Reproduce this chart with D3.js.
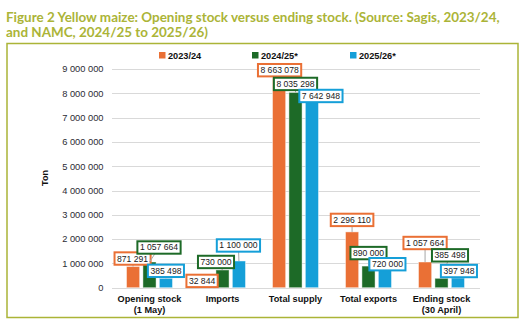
<!DOCTYPE html>
<html><head><meta charset="utf-8">
<script src="https://cdn.jsdelivr.net/npm/d3@7"></script>
<style>html,body{margin:0;padding:0;background:#fff;}svg{display:block;}</style>
</head><body>
<script>
const categories = [["Opening stock","(1 May)"],["Imports"],["Total supply"],["Total exports"],["Ending stock","(30 April)"]];
const seriesNames = ["2023/24","2024/25*","2025/26*"];
const s2023 = [871291, 32844, 8663078, 2296110, 1057664];
const s2024 = [1057664, 730000, 8035298, 890000, 385498];
const s2025 = [385498, 1100000, 7642948, 720000, 397948];
const yTicks = [0,1000000,2000000,3000000,4000000,5000000,6000000,7000000,8000000,9000000];

const colors = ["#ea7035","#1d6a27","#159fd8"];
// label offsets (dx, dy) from bar top centre, per series per category
const offs = [
  [[-0.5,-8],[-4,-6],[0.5,-7],[0,-12],[0,-19]],
  [[9.5,-14.5],[-6.5,-8],[0,-8.5],[0,-13],[8.5,-23]],
  [[0,-7.5],[-0.5,-15.5],[9,-6],[2.5,-6],[1,-7]]
];
const series = [s2023, s2024, s2025];
const W=523,H=325;
const svg=d3.select("body").append("svg").attr("width",W).attr("height",H);
const olive="#abb437";
const fmt = v => d3.format(",")(v).replace(/,/g," ");

// title, font size fitted to the reference width
function titleLine(txt, yy, targetW){
  const t = svg.append("text").attr("x",6).attr("y",yy).attr("fill",olive)
    .style("font-family","Lato").style("font-weight","bold").style("font-size","14px").text(txt);
  return t;
}
const t1 = titleLine("Figure 2 Yellow maize: Opening stock versus ending stock. (Source: Sagis, 2023/24,",21.5);
const w1 = t1.node().getComputedTextLength();
const fs = Math.min(15, 14*494/w1);
t1.style("font-size",fs+"px");
const t2 = titleLine("and NAMC, 2024/25 to 2025/26)",36.5);
t2.style("font-size",fs+"px");

// frame
svg.append("rect").attr("x",7).attr("y",43.5).attr("width",511).attr("height",274)
  .attr("fill","none").attr("stroke",olive).attr("stroke-width",1.5);

const y=d3.scaleLinear().domain([0,9000000]).range([287.7,69]);
const x0=d3.scaleBand().domain(d3.range(categories.length)).range([113,478]).paddingInner(0.37).paddingOuter(0.185);
const x1=d3.scaleBand().domain(d3.range(3)).range([0,x0.bandwidth()]).paddingInner(0.2).paddingOuter(0);

// grid
const g=svg.append("g");
g.selectAll("line.grid").data(yTicks).join("line")
  .attr("x1",112).attr("x2",480).attr("y1",d=>Math.round(y(d))+0.5).attr("y2",d=>Math.round(y(d))+0.5)
  .attr("stroke","#d9d9d9").attr("stroke-width",1);
g.selectAll("text.tick").data(yTicks).join("text")
  .attr("x",103.5).attr("y",d=>y(d)+3.3).attr("text-anchor","end")
  .style("font-family","Liberation Sans, Arial").style("font-size","9.3px").attr("fill","#2b2b33")
  .text(d=>fmt(d));

svg.append("text").attr("transform","translate(48,178) rotate(-90)").attr("text-anchor","middle")
  .style("font-family","Liberation Sans, Arial").style("font-weight","bold").style("font-size","9px").attr("fill","#111")
  .text("Ton");

// bars
series.forEach((s,si)=>{
  svg.append("g").selectAll("rect").data(s).join("rect")
    .attr("x",(d,i)=>x0(i)+x1(si)).attr("width",x1.bandwidth())
    .attr("y",d=>y(d)).attr("height",d=>y(0)-y(d))
    .attr("fill",colors[si]).attr("stroke","rgba(255,255,255,0.45)").attr("stroke-width",1);
});

// labels
series.forEach((s,si)=>{
  s.forEach((v,i)=>{
    const bx=x0(i)+x1(si)+x1.bandwidth()/2, by=y(v);
    const cx=bx+offs[si][i][0], cy=by+offs[si][i][1];
    svg.append("line").attr("x1",bx).attr("y1",by).attr("x2",cx).attr("y2",cy)
      .attr("stroke","#a6a6a6").attr("stroke-width",1);
    const lg=svg.append("g");
    const txt=lg.append("text").attr("x",cx).attr("y",cy+3).attr("text-anchor","middle")
      .style("font-family","Liberation Sans, Arial").style("font-size","8.6px").attr("fill","#1a1a1a")
      .text(fmt(v));
    const w=txt.node().getComputedTextLength()+5;
    lg.insert("rect","text").attr("x",cx-w/2).attr("y",cy-6.2).attr("width",w).attr("height",12.4)
      .attr("fill","#fff").attr("stroke",colors[si]).attr("stroke-width",2);
  });
});

// category labels
categories.forEach((c,i)=>{
  const cx=x0(i)+x0.bandwidth()/2;
  c.forEach((line,li)=>{
    svg.append("text").attr("x",cx).attr("y",302+li*11).attr("text-anchor","middle")
      .style("font-family","Liberation Sans, Arial").style("font-weight","bold").style("font-size","9.2px").attr("fill","#111")
      .text(line);
  });
});

// legend
const legX=[159,252,350];
seriesNames.forEach((n,i)=>{
  svg.append("rect").attr("x",legX[i]).attr("y",52).attr("width",6.5).attr("height",6.5).attr("fill",colors[i]);
  svg.append("text").attr("x",legX[i]+9).attr("y",58.5)
    .style("font-family","Liberation Sans, Arial").style("font-weight","bold").style("font-size","9.2px").attr("fill","#111")
    .text(n);
});
</script>
</body></html>
